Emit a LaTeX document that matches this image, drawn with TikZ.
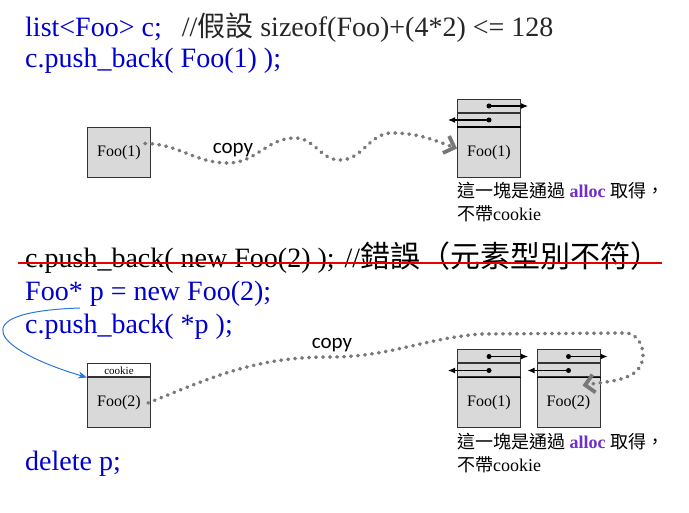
\documentclass[tikz,border=0pt]{standalone}
\usepackage{fontspec}
\setmainfont{Liberation Serif}
\newfontfamily\cjk{Noto Sans CJK TC}
\newfontfamily\copyfont{Carlito}
\usetikzlibrary{arrows.meta,positioning}

\definecolor{codeblue}{RGB}{0,0,205}
\definecolor{arcblue}{RGB}{40,120,220}
\definecolor{boxgray}{RGB}{217,217,217}
\definecolor{dotgray}{RGB}{120,120,120}
\definecolor{allocpurple}{RGB}{112,48,200}
\definecolor{strikered}{RGB}{230,0,0}

\tikzset{
  code/.style={anchor=base west, inner sep=0pt, font=\fontsize{28}{30}\selectfont},
  cell/.style={draw=black!80, fill=boxgray, minimum width=63pt, minimum height=13pt,
    inner sep=0pt, line width=1pt},
  body/.style={cell, minimum height=50pt, font=\fontsize{16}{18}\selectfont},
  cookiecell/.style={cell, fill=white, font=\fontsize{11}{12}\selectfont},
  copyline/.style={dotgray, line width=3.6pt, line cap=round, dash pattern=on 0.6pt off 6.4pt,
    -{Straight Barb[length=9pt, width=18pt, line width=3.8pt]}},
  copylabel/.style={font=\copyfont\fontsize{21}{24}\selectfont, inner sep=0pt},
  link/.style={line width=1.2pt, -{Latex[length=7pt, width=6pt]}},
  dot/.style={circle, fill=black, inner sep=0pt, minimum size=5pt},
  caption/.style={anchor=north west, align=left, inner sep=0pt,
    font=\fontsize{18}{23}\selectfont},
}

\begin{document}
\begin{tikzpicture}[x=1pt, y=-1pt]
  \useasboundingbox (0,0) rectangle (689,513);

  \node[code, text=codeblue] (decl) at (25,37)
    {list<Foo> c;\hspace{20pt}{\color{black!85}//{\cjk 假設} sizeof(Foo)+(4*2) <= 128}};
  \node[code, text=codeblue] (push1) at (25,68) {c.push\_back( Foo(1) );};

  \node[body] (foo1) at (119,152.5) {Foo(1)};

  \node[body] (lst1) at (489,152.5) {Foo(1)};
  \node[cell, above=0pt of lst1] (lst1b) {};
  \node[cell, above=0pt of lst1b] (lst1a) {};
  \draw[line width=1.8pt] (lst1.north west) -- (lst1.north east);
  \draw[link] (lst1a.center) -- ([xshift=7pt]lst1a.east);
  \draw[link] (lst1b.center) -- ([xshift=-9pt]lst1b.west);
  \node[dot] at (lst1a.center) {};
  \node[dot] at (lst1b.center) {};

  \draw[copyline] ([shift={(-6pt,9pt)}]foo1.east) to[out=0,in=180] (228,163)
    to[out=0,in=180] (295,138) to[out=0,in=180] (340,160)
    to[out=0,in=180] (392,133) to[out=0,in=160] ([yshift=4pt]lst1.west);
  \node[copylabel] (copy1) at (233,150) {copy};

  \node[caption] (cap1) at ([yshift=-4pt]lst1.south west)
    {{\cjk 這一塊是通過} {\bfseries\color{allocpurple}alloc} {\cjk 取得，}\\{\cjk 不帶}cookie};

  \node[code] (bad) at (25,268)
    {c.push\_back( new Foo(2) );\hspace{10pt}//{\cjk\fontsize{30}{30}\selectfont 錯誤（元素型別不符）}};
  \draw[strikered, line width=2.5pt] ([shift={(-7pt,5pt)}]bad.base west)
    -- ([shift={(2pt,5pt)}]bad.base east);
  \node[code, text=codeblue] (newp) at (25,301) {Foo* p = new Foo(2);};
  \node[code, text=codeblue] (push2) at (25,334) {c.push\_back( *p );};
  \node[code, text=codeblue] (del) at (25,470) {delete p;};

  \node[body] (foo2) at (119,403) {Foo(2)};
  \node[cookiecell, above=0pt of foo2] (ck) {cookie};

  \coordinate (pstart) at (80,308);
  \draw[arcblue, line width=1pt, -{Stealth[length=9pt, width=7pt]}] (pstart)
    .. controls (-40,312) and (-5,350) .. (ck.south west);

  \node[body] (lst2) at (489,403) {Foo(1)};
  \node[cell, above=0pt of lst2] (lst2b) {};
  \node[cell, above=0pt of lst2b] (lst2a) {};
  \draw[line width=1.8pt] (lst2.north west) -- (lst2.north east);
  \draw[link] (lst2a.center) -- ([xshift=7pt]lst2a.east);
  \draw[link] (lst2b.center) -- ([xshift=-9pt]lst2b.west);
  \node[dot] at (lst2a.center) {};
  \node[dot] at (lst2b.center) {};

  \node[body] (lst3) at (568.5,403) {Foo(2)};
  \node[cell, above=0pt of lst3] (lst3b) {};
  \node[cell, above=0pt of lst3b] (lst3a) {};
  \draw[line width=1.8pt] (lst3.north west) -- (lst3.north east);
  \draw[link] (lst3a.center) -- ([xshift=7pt]lst3a.east);
  \draw[link] (lst3b.center) -- ([xshift=-9pt]lst3b.west);
  \node[dot] at (lst3a.center) {};
  \node[dot] at (lst3b.center) {};

  \draw[copyline] ([xshift=-3pt]foo2.east) to[out=22,in=180] (330,357)
    to[out=0,in=185] (480,334) -- (625,333) to[out=0,in=90] (643,355)
    to[out=-90,in=10] ([shift={(-18pt,-8pt)}]lst3.north east);
  \node[copylabel] (copy2) at (332,345) {copy};

  \node[caption] (cap2) at ([yshift=-4pt]lst2.south west)
    {{\cjk 這一塊是通過} {\bfseries\color{allocpurple}alloc} {\cjk 取得，}\\{\cjk 不帶}cookie};
\end{tikzpicture}
\end{document}
